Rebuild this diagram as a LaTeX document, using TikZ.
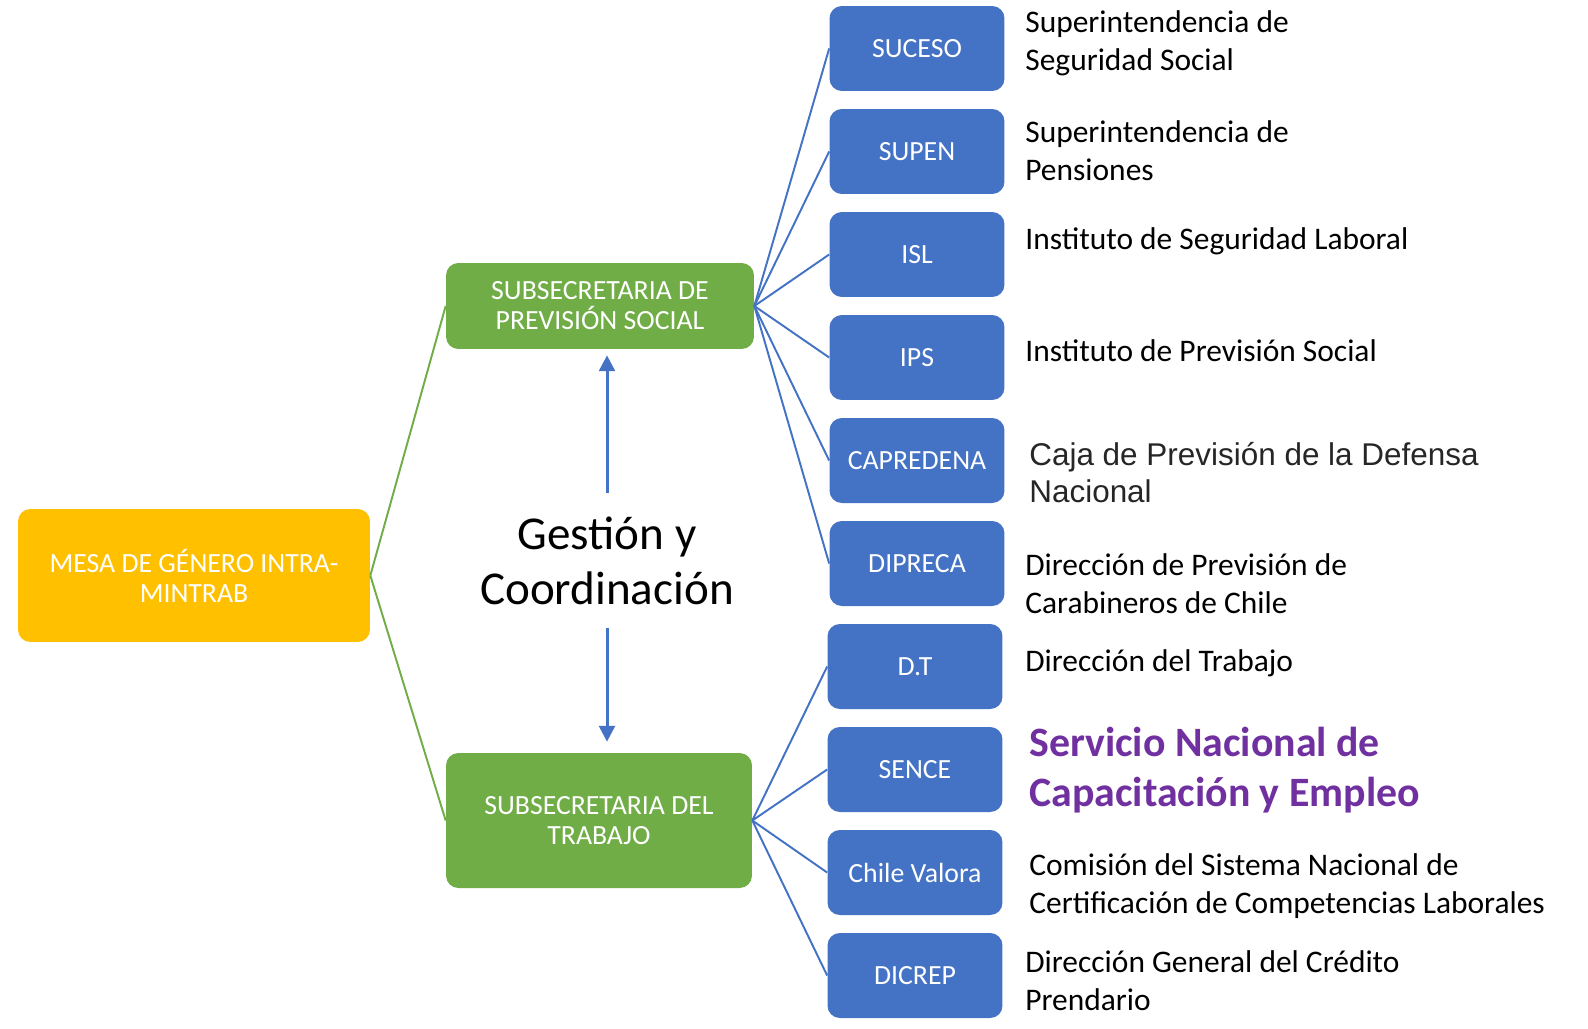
\documentclass[tikz,border=0pt]{standalone}
\usepackage{fontspec}
\setmainfont{Carlito}
\newfontfamily\arialfont{Liberation Sans}
\usetikzlibrary{arrows.meta}
\definecolor{mtblue}{HTML}{4472C4}
\definecolor{mtgreen}{HTML}{70AD47}
\definecolor{mtgold}{HTML}{FFC000}
\definecolor{mtpurple}{HTML}{7030A0}
\definecolor{mtgray}{HTML}{262626}
\tikzset{
  box/.style = {align=center, inner sep=0pt, text=white, rounded corners=7pt,
    font=\fontsize{15.8}{17}\selectfont},
  rootbox/.style = {box, fill=mtgold, minimum width=7.04cm, minimum height=2.66cm},
  subbox/.style = {box, fill=mtgreen, minimum width=6.16cm},
  orgbox/.style = {box, fill=mtblue, minimum width=3.5cm, minimum height=1.7cm},
  desc/.style = {anchor=west, align=left, inner sep=0pt,
    font=\fontsize{17.9}{21.6}\selectfont},
  greenline/.style = {draw=mtgreen, line width=1.1pt},
  blueline/.style = {draw=mtblue, line width=1.1pt},
  linkarrow/.style = {->, draw=mtblue, fill=mtblue, line width=1.7pt}
}
\begin{document}
\begin{tikzpicture}[x=0.02cm, y=-0.02cm, >={Triangle[length=9pt,width=9pt]}]
  \path [use as bounding box, fill=white] (0,0) rectangle (1588,1028);
  % main boxes
  \node [rootbox] (mesa) at (194,575.5) {MESA DE GÉNERO INTRA-\\MINTRAB};
  \node [subbox, minimum height=1.72cm] (prev) at (600,306)
    {SUBSECRETARIA DE\\PREVISIÓN SOCIAL};
  \node [subbox, minimum height=2.7cm, minimum width=6.12cm] (trab) at (599,820.5)
    {SUBSECRETARIA DEL\\TRABAJO};
  \node [align=center, minimum height=2.7cm, inner sep=0pt,
    font=\fontsize{26.8}{31.3}\selectfont] (gestion) at (607,560.5)
    {Gestión y\\Coordinación};
  % services
  \node [orgbox] (suceso) at (917,48.5) {SUCESO};
  \node [orgbox] (supen) at (917,151.5) {SUPEN};
  \node [orgbox] (isl) at (917,254.5) {ISL};
  \node [orgbox] (ips) at (917,357.5) {IPS};
  \node [orgbox] (capredena) at (917,460.5) {CAPREDENA};
  \node [orgbox] (dipreca) at (917,563.5) {DIPRECA};
  \node [orgbox] (dt) at (915,666.5) {D.T};
  \node [orgbox] (sence) at (915,769.5) {SENCE};
  \node [orgbox] (chile) at (915,872.5) {Chile Valora};
  \node [orgbox] (dicrep) at (915,975.5) {DICREP};
  % descriptions
  \node [desc] (sucesotxt) at (1025,43) {Superintendencia de\\Seguridad Social};
  \node [desc] (supentxt) at (1025,151) {Superintendencia de\\Pensiones};
  \node [desc] (isltxt) at (1025,241) {Instituto de Seguridad Laboral};
  \node [desc] (ipstxt) at (1025,351) {Instituto de Previsión Social};
  \node [desc, text=mtgray, font=\arialfont\fontsize{17.9}{21}\selectfont]
    (capredenatxt) at (1029,473) {Caja de Previsión de la Defensa\\Nacional};
  \node [desc] (diprecatxt) at (1025,584) {Dirección de Previsión de\\Carabineros de Chile};
  \node [desc] (dttxt) at (1025,663) {Dirección del Trabajo};
  \node [desc, text=mtpurple, font=\bfseries\fontsize{23.8}{28.4}\selectfont]
    (sencetxt) at (1029,770) {Servicio Nacional de\\Capacitación y Empleo};
  \node [desc] (chiletxt) at (1029,886)
    {Comisión del Sistema Nacional de\\Certificación de Competencias Laborales};
  \node [desc] (dicreptxt) at (1025,981) {Dirección General del Crédito\\Prendario};
  % connectors
  \draw [greenline] (mesa.east) -- (prev.west);
  \draw [greenline] (mesa.east) -- (trab.west);
  \foreach \org in {suceso,supen,isl,ips,capredena,dipreca}
    \draw [blueline] (prev.east) -- (\org.west);
  \foreach \org in {dt,sence,chile,dicrep}
    \draw [blueline] (trab.east) -- (\org.west);
  \draw [linkarrow, shorten >=0.12cm] (gestion.north) -- (gestion.north |- prev.south);
  \draw [linkarrow, shorten >=0.22cm] (gestion.south) -- (gestion.south |- trab.north);
\end{tikzpicture}
\end{document}
